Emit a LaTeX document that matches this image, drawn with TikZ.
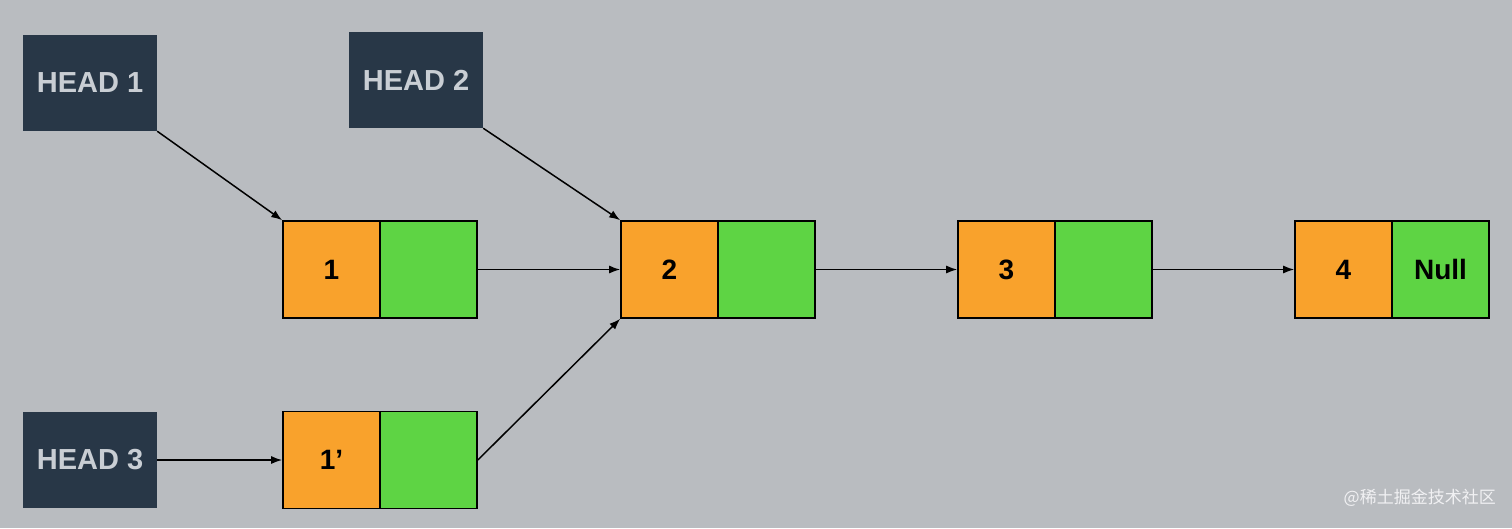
\documentclass[tikz,border=0pt]{standalone}
\usepackage{fontspec}
\setmainfont{Liberation Sans}
\newfontfamily\cjk{Noto Sans CJK SC}
\usetikzlibrary{arrows.meta}
\definecolor{bg}{HTML}{B9BCC0}
\definecolor{headbg}{HTML}{283747}
\definecolor{headtx}{HTML}{C9CED4}
\definecolor{orangec}{HTML}{F9A22C}
\definecolor{greenc}{HTML}{5ED444}
\begin{document}
\begin{tikzpicture}[x=1pt,y=-1pt,
  head/.style={fill=headbg,draw=none,minimum width=134pt,minimum height=96pt,inner sep=0pt,
    text=headtx,font=\fontsize{29}{32}\selectfont\bfseries},
  datac/.style={fill=orangec,draw=black,line width=1.6pt,minimum width=97pt,minimum height=97pt,inner sep=0pt,
    font=\fontsize{28}{30}\selectfont\bfseries},
  nextc/.style={fill=greenc,draw=black,line width=1.6pt,minimum width=97pt,minimum height=97pt,inner sep=0pt,
    font=\fontsize{28}{30}\selectfont\bfseries},
  link/.style={-{Latex[length=11pt,width=8pt]},line width=1.5pt,black}]
\fill[bg] (0,0) rectangle (1512,528);
\useasboundingbox (0,0) rectangle (1512,528);
% heads
\node[head] (h1) at (90,83) {HEAD 1};
\node[head] (h2) at (416,80) {HEAD 2};
\node[head] (h3) at (90,460) {HEAD 3};
% list nodes
\node[datac] (d1) at (331.5,269.5) {1};
\node[nextc] (n1) at (428.5,269.5) {};
\node[datac] (d1p) at (331.5,460) {1’};
\node[nextc] (n1p) at (428.5,460) {};
\node[datac] (d2) at (669.5,269.5) {2};
\node[nextc] (n2) at (766.5,269.5) {};
\node[datac] (d3) at (1006.5,269.5) {3};
\node[nextc] (n3) at (1103.5,269.5) {};
\node[datac] (d4) at (1343.5,269.5) {4};
\node[nextc] (n4) at (1440.5,269.5) {Null};
% connectors
\draw[link] (h1.south east) -- (d1.north west);
\draw[link] (h2.south east) -- (d2.north west);
\draw[link] (h3.east) -- (d1p.west);
\draw[link] (n1.east) -- (d2.west);
\draw[link] (n1p.east) -- (d2.south west);
\draw[link] (n2.east) -- (d3.west);
\draw[link] (n3.east) -- (d4.west);
% watermark
\node[anchor=east,text=white!80!bg,font=\cjk\fontsize{17}{20}\selectfont,inner sep=0pt] (wm) at (1496,498) {@稀土掘金技术社区};
\end{tikzpicture}
\end{document}
